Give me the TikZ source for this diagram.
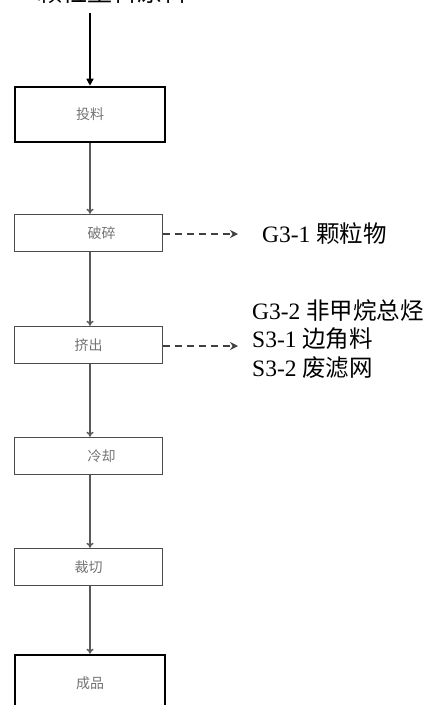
\documentclass[tikz,border=0pt]{standalone}
\usepackage{fontspec}
\setmainfont{Liberation Serif}
\newfontfamily\cjk{Noto Sans CJK SC}
\usetikzlibrary{arrows.meta,positioning}
\tikzset{
  boxtext/.style={font=\cjk\fontsize{14}{16}\selectfont, text=black!55},
  thickbox/.style={draw=black, line width=2.6pt, minimum width=150pt, inner sep=0pt, boxtext},
  thinbox/.style={draw=black!70, line width=1.5pt, minimum width=148pt, minimum height=37pt, inner sep=0pt, boxtext},
  flow/.style={draw=black!65, line width=1.5pt, -{To[length=5pt,width=7pt]}},
  side/.style={draw=black!75, line width=1.6pt, dash pattern=on 7pt off 5pt, -{Stealth[length=8pt,width=8pt]}},
  lbl/.style={anchor=west, inner sep=0pt, font=\fontsize{23.5}{26}\selectfont}
}
\begin{document}
\begin{tikzpicture}[x=1pt,y=-1pt]
\useasboundingbox (0,0) rectangle (431,705);
\clip (0,0) rectangle (431,705);
\node[anchor=west, inner sep=0pt, font=\cjk\fontsize{25}{28}\selectfont] (src) at (37,-8) {颗粒塑料原料};
\coordinate (srcpt) at (90,13);
\node[thickbox, minimum height=55pt] (b1) at (90,114.5) {投料};
\node[thinbox] (b2) at (88.5,233) {\hspace*{26pt}破碎};
\node[thinbox] (b3) at (88.5,345) {挤出};
\node[thinbox] (b4) at (88.5,456) {\hspace*{26pt}冷却};
\node[thinbox] (b5) at (88.5,567) {裁切};
\node[thickbox, minimum height=70pt] (b6) at (90,690) {};
\node[boxtext] (t6) at (90,683) {成品};
\draw[line width=1.5pt, -{Triangle[length=7pt,width=7pt]}] (srcpt) -- (b1.north -| srcpt);
\draw[flow] (b1.south -| 90,0) -- (b2.north -| 90,0);
\draw[flow] (b2.south -| 90,0) -- (b3.north -| 90,0);
\draw[flow] (b3.south -| 90,0) -- (b4.north -| 90,0);
\draw[flow] (b4.south -| 90,0) -- (b5.north -| 90,0);
\draw[flow] (b5.south -| 90,0) -- (b6.north -| 90,0);
\node[lbl] (g31) at (262,234) {G3-1 {\cjk 颗粒物}};
\node[lbl] (g32) at (252,311) {G3-2 {\cjk 非甲烷总烃}};
\node[lbl] (s31) at (252,339) {S3-1 {\cjk 边角料}};
\node[lbl] (s32) at (252,368) {S3-2 {\cjk 废滤网}};
\coordinate (e2) at (238,234);
\coordinate (e3) at (238,346);
\draw[side] (b2.east |- e2) -- (e2);
\draw[side] (b3.east |- e3) -- (e3);
\end{tikzpicture}
\end{document}
